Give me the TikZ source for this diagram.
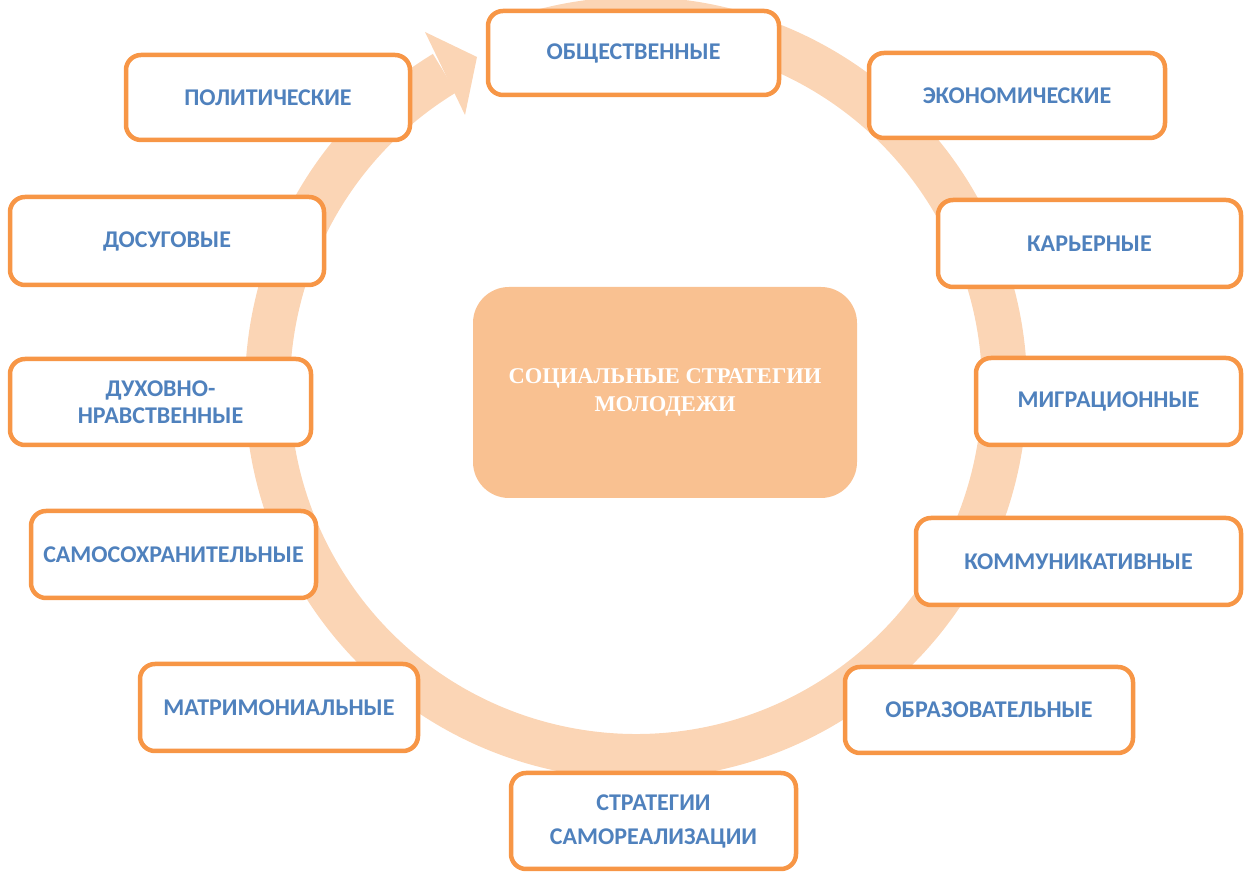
\documentclass[tikz,border=0pt]{standalone}
\usepackage{fontspec}
\newfontfamily\carlito{Carlito}
\newfontfamily\cserif{Liberation Serif}
\definecolor{orng}{HTML}{F79646}
\definecolor{ringc}{HTML}{FBD5B5}
\definecolor{centerc}{HTML}{F9C191}
\definecolor{bluet}{HTML}{4F81BD}
\tikzset{
  stratbox/.style={draw=orng, line width=4.5pt, rounded corners=15pt, fill=white,
    text=bluet, font=\carlito\bfseries\fontsize{24}{27}\selectfont, align=center,
    inner sep=0pt},
  centerbox/.style={fill=centerc, rounded corners=36pt, text=white,
    font=\cserif\bfseries\fontsize{22.5}{28}\selectfont, align=center, inner sep=0pt},
}
\begin{document}
\begin{tikzpicture}[x=1pt,y=1pt]
\useasboundingbox (0,0) rectangle (1251,872);
\coordinate (C) at (636,484);
% ring arrow
\fill[ringc] ([shift={(110:391)}]C) arc[start angle=110, end angle=-238.7, radius=391]
  -- ([shift={(-238.7:346)}]C) arc[start angle=-238.7, end angle=110, radius=346] -- cycle;
\fill[ringc] (425,840) -- (477,815) -- (465,757) -- cycle;
% center
\node[centerbox, minimum width=384, minimum height=211] (center) at (665,479.5)
  {СОЦИАЛЬНЫЕ СТРАТЕГИИ\\МОЛОДЕЖИ};
% boxes
\node[stratbox, minimum width=291, minimum height=84] (obsh) at (633.5,819) {ОБЩЕСТВЕННЫЕ};
\node[stratbox, minimum width=284, minimum height=85] (polit) at (268,774.5) {ПОЛИТИЧЕСКИЕ};
\node[stratbox, minimum width=296, minimum height=85] (econ) at (1017,776.5) {ЭКОНОМИЧЕСКИЕ};
\node[stratbox, minimum width=314, minimum height=88] (dosug) at (167,631) {ДОСУГОВЫЕ};
\node[stratbox, minimum width=303, minimum height=87] (karier) at (1089.5,628.5) {КАРЬЕРНЫЕ};
\node[stratbox, minimum width=301, minimum height=86] (duh) at (160.5,470) {ДУХОВНО-\\НРАВСТВЕННЫЕ};
\node[stratbox, minimum width=265, minimum height=87] (migr) at (1108.5,470.5) {МИГРАЦИОННЫЕ};
\node[stratbox, minimum width=285, minimum height=87] (samos) at (173.5,317.5) {САМОСОХРАНИТЕЛЬНЫЕ};
\node[stratbox, minimum width=325, minimum height=87] (komm) at (1078.5,310.5) {КОММУНИКАТИВНЫЕ};
\node[stratbox, minimum width=278, minimum height=87] (matr) at (279,164.5) {МАТРИМОНИАЛЬНЫЕ};
\node[stratbox, minimum width=288, minimum height=86] (obraz) at (989,162) {ОБРАЗОВАТЕЛЬНЫЕ};
\node[stratbox, minimum width=285, minimum height=96] (samoreal) at (653.5,51) {СТРАТЕГИИ\\[7pt]САМОРЕАЛИЗАЦИИ};
\end{tikzpicture}
\end{document}
